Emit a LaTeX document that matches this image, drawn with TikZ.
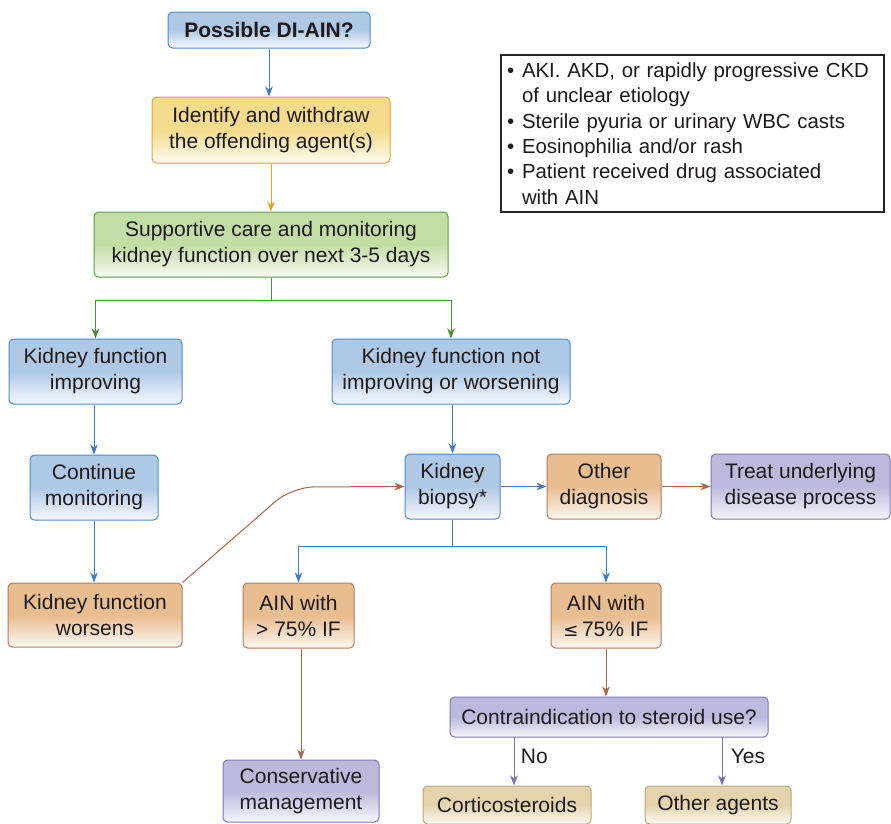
\documentclass[tikz,border=0pt]{standalone}
\usepackage{fontspec}
\setmainfont{Liberation Sans}
\usetikzlibrary{arrows.meta}
\definecolor{txt}{HTML}{1E1A1B}
\definecolor{bluefill}{HTML}{AFC8E6}
\definecolor{bluedraw}{HTML}{4F8BC9}
\definecolor{yelfill}{HTML}{F5DB8E}
\definecolor{yeldraw}{HTML}{D8A93E}
\definecolor{grnfill}{HTML}{C3DDA6}
\definecolor{grndraw}{HTML}{5E9A4C}
\definecolor{orgfill}{HTML}{E8BD8F}
\definecolor{orgdraw}{HTML}{B57A5E}
\definecolor{purfill}{HTML}{BCB9DC}
\definecolor{purdraw}{HTML}{8076BC}
\definecolor{begfill}{HTML}{E4D4AE}
\definecolor{begdraw}{HTML}{BBA67C}
\definecolor{bluearr}{HTML}{3F7CC2}
\definecolor{yelarr}{HTML}{D9A62E}
\definecolor{grnarr}{HTML}{4E8A3E}
\definecolor{brnarr}{HTML}{A8674C}
\definecolor{purarr}{HTML}{7B6FB5}
\newcommand{\fsz}{\fontsize{21}{26}\selectfont}
\newcommand{\fszinfo}{\fontsize{20.4}{25.4}\selectfont}
\tikzset{
  x=1pt, y=-1pt,
  box/.style={rounded corners=4.5pt, line width=1pt, align=center, inner sep=2pt, font=\fsz, text=txt},
  bluebox/.style={box, draw=bluedraw, top color=bluefill, bottom color=bluefill!12, middle color=bluefill},
  yelbox/.style={box, draw=yeldraw, top color=yelfill, bottom color=yelfill!12, middle color=yelfill},
  grnbox/.style={box, draw=grndraw, top color=grnfill, bottom color=grnfill!12, middle color=grnfill},
  orgbox/.style={box, draw=orgdraw, top color=orgfill, bottom color=orgfill!12, middle color=orgfill},
  purbox/.style={box, draw=purdraw, top color=purfill, bottom color=purfill!12, middle color=purfill},
  begbox/.style={box, draw=begdraw, top color=begfill, bottom color=begfill!12, middle color=begfill},
  arr/.style={line width=1pt, -{Stealth[length=10pt, width=7.5pt, inset=3pt]}},
  ln/.style={line width=1pt},
}
\begin{document}
\begin{tikzpicture}
\clip (0,0) rectangle (891,823);
\fill[white] (0,0) rectangle (891,823);

\node[bluebox, minimum width=202pt, minimum height=36pt, font=\fsz\bfseries] (n1) at (269,30) {Possible DI-AIN?};
\node[yelbox, minimum width=238pt, minimum height=66pt] (n2) at (271,130) {Identify and withdraw\\the offending agent(s)};
\node[grnbox, minimum width=354pt, minimum height=65pt] (n3) at (271,244.5) {Supportive care and monitoring\\kidney function over next 3-5 days};

\node[draw=black!85, line width=1.2pt, minimum height=157pt, text width=371pt, inner xsep=6pt, inner ysep=0pt, align=left, font=\fszinfo, text=txt] (info) at (692.5,133.5)
{\makebox[15pt][l]{•}AKI. AKD, or rapidly progressive CKD\\
\hspace*{15pt}of unclear etiology\\
\makebox[15pt][l]{•}Sterile pyuria or urinary WBC casts\\
\makebox[15pt][l]{•}Eosinophilia and/or rash\\
\makebox[15pt][l]{•}Patient received drug associated\\
\hspace*{15pt}with AIN};

\node[bluebox, minimum width=173pt, minimum height=65pt] (n5) at (95.5,371.5) {Kidney function\\improving};
\node[bluebox, minimum width=238pt, minimum height=65pt] (n6) at (451,371.5) {Kidney function not\\improving or worsening};
\node[bluebox, minimum width=128pt, minimum height=65pt] (n7) at (94,487.5) {Continue\\monitoring};
\node[bluebox, minimum width=95pt, minimum height=65pt] (n8) at (452.5,486.5) {Kidney\\biopsy*};
\node[orgbox, minimum width=114pt, minimum height=65pt] (n9) at (604,486.5) {Other\\diagnosis};
\node[purbox, minimum width=179pt, minimum height=65pt] (n10) at (800.5,486.5) {Treat underlying\\disease process};
\node[orgbox, minimum width=174pt, minimum height=64pt] (n11) at (95,615) {Kidney function\\worsens};
\node[orgbox, minimum width=111pt, minimum height=65pt] (n12) at (298.5,615.5) {AIN with\\> 75\% IF};
\node[orgbox, minimum width=110pt, minimum height=65pt] (n13) at (606,615.5) {AIN with\\{\fontspec{DejaVu Sans}\fontsize{18}{20}\selectfont ≤}\,75\% IF};
\node[purbox, minimum width=318pt, minimum height=40pt] (n14) at (609,717) {Contraindication to steroid use?};
\node[purbox, minimum width=156pt, minimum height=62pt] (n15) at (301,791) {Conservative\\management};
\node[begbox, minimum width=168pt, minimum height=38pt] (n16) at (507,805) {Corticosteroids};
\node[begbox, minimum width=146pt, minimum height=38pt] (n17) at (718,805) {Other agents};

% connectors
\draw[arr, bluearr] (n1.south) -- (n1.south |- n2.north);
\draw[arr, yelarr] (n2) -- (n3);
\coordinate (s1) at (271,300);
\draw[ln, grnarr] (n3.south) -- (s1);
\draw[arr, grnarr] (s1) -| (n5.north);
\draw[arr, grnarr] (s1) -| (n6.north);
\draw[arr, bluearr] (n5.south -| n7.north) -- (n7.north);
\draw[arr, bluearr] (n7.south) -- (n7.south |- n11.north);
\draw[arr, bluearr] (n8.north |- n6.south) -- (n8.north);
\draw[arr, bluearr] (n8) -- (n9);
\draw[arr, brnarr] (n9) -- (n10);
\coordinate (bend) at (292,487);
\draw[arr, brnarr, rounded corners=22pt] (n11.north east) -- (bend) -- (n8.west);
\coordinate (s2) at (452.5,546);
\draw[ln, bluearr] (n8.south) -- (s2);
\draw[arr, bluearr] (s2) -| (n12.north);
\draw[arr, bluearr] (s2) -| (n13.north);
\draw[arr, brnarr] (n12.south -| n15.north) -- (n15.north);
\draw[arr, brnarr] (n13.south) -- (n13.south |- n14.north);
\coordinate (no) at (514,737);
\coordinate (yes) at (722,737);
\draw[arr, purarr] (no) -- (no |- n16.north) node[pos=0.4, right=3pt, font=\fsz, text=txt] (lno) {No};
\draw[arr, purarr] (yes) -- (yes |- n17.north) node[pos=0.4, right=5pt, font=\fsz, text=txt] (lyes) {Yes};
\end{tikzpicture}
\end{document}
